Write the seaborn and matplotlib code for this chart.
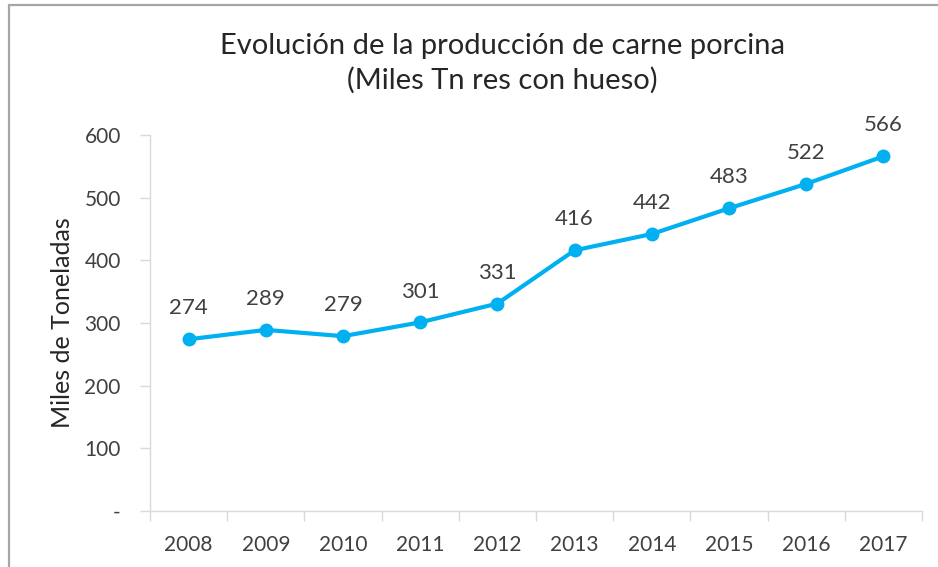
import matplotlib
matplotlib.use("Agg")
import matplotlib.pyplot as plt
import seaborn as sns
import pandas as pd
from matplotlib.lines import Line2D
from matplotlib.ticker import FixedLocator

years = [2008, 2009, 2010, 2011, 2012, 2013, 2014, 2015, 2016, 2017]
values = [274, 289, 279, 301, 331, 416, 442, 483, 522, 566]
yticks = [0, 100, 200, 300, 400, 500, 600]
ytick_labels = ["-", "100", "200", "300", "400", "500", "600"]
title = "Evolución de la producción de carne porcina\n(Miles Tn res con hueso)"
ylabel = "Miles de Toneladas"

sns.set_theme(style="white")
plt.rcParams["font.family"] = ["Lato", "DejaVu Sans"]

text_color = "#404040"
line_color = "#00B0F0"
axis_color = "#d9d9d9"

df = pd.DataFrame({"year": years, "value": values})

fig = plt.figure(figsize=(9.38, 5.67), dpi=100)
ax = fig.add_axes([150 / 938, 1 - 511 / 567, (922 - 150) / 938, (511 - 135) / 567])

sns.lineplot(data=df, x="year", y="value", ax=ax, color=line_color,
             linewidth=3.0, marker="o", markersize=10, markeredgewidth=0,
             markerfacecolor=line_color)

for x, y in zip(years, values):
    ax.annotate(f"{y}", (x, y), xytext=(0, 15), textcoords="offset points",
                ha="center", va="bottom", fontsize=16, color=text_color)

ax.set_xlim(years[0] - 0.5, years[-1] + 0.5)
ax.set_ylim(0, 600)
ax.set_xticks(years)
ax.set_xticklabels([str(y) for y in years], fontsize=15, color=text_color)
ax.xaxis.set_minor_locator(FixedLocator([y - 0.5 for y in years] + [years[-1] + 0.5]))
ax.tick_params(axis="x", which="major", length=0, pad=17)
ax.tick_params(axis="x", which="minor", length=7, width=1, color=axis_color, direction="out", bottom=True)
ax.set_yticks(yticks)
ax.set_yticklabels(ytick_labels, fontsize=15, color=text_color)
ax.tick_params(axis="y", length=7, width=1, color=axis_color, direction="out", left=True, pad=14)

for s in ["top", "right"]:
    ax.spines[s].set_visible(False)
for s in ["left", "bottom"]:
    ax.spines[s].set_color(axis_color)
    ax.spines[s].set_linewidth(1)

ax.set_xlabel("")
ax.set_ylabel(ylabel, fontsize=18, color="#262626")
ax.yaxis.set_label_coords(-76 / 772, 0.5)

fig.text(502 / 938, 1 - 63 / 567, title, ha="center", va="center",
         fontsize=21, color="#262626", linespacing=1.35)

# outer chart border (left and top visible)
fig.add_artist(Line2D([9 / 938, 9 / 938], [0, 1 - 5 / 567], transform=fig.transFigure,
                      color="#a6a6a6", linewidth=1.6))
fig.add_artist(Line2D([9 / 938, 1], [1 - 5 / 567, 1 - 5 / 567], transform=fig.transFigure,
                      color="#a6a6a6", linewidth=1.6))

fig.savefig("out.png", dpi=100, facecolor="white")
